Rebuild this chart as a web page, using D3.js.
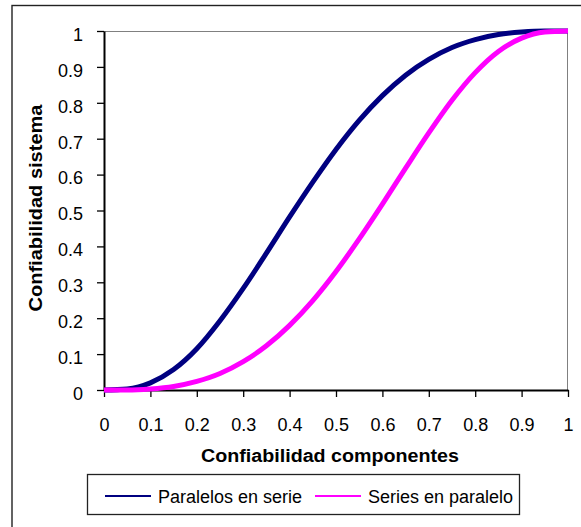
<!DOCTYPE html>
<html>
<head>
<meta charset="utf-8">
<script src="https://cdn.jsdelivr.net/npm/d3@7"></script>
<style>
  body { margin: 0; background: #fff; }
  svg { display: block; font-family: "Liberation Sans", Arial, sans-serif; }
</style>
</head>
<body>
<svg></svg>
<script>
// component reliability (x)
const componentes = [0, 0.05, 0.1, 0.15, 0.2, 0.25, 0.3, 0.35, 0.4, 0.45, 0.5,
  0.55, 0.6, 0.65, 0.7, 0.75, 0.8, 0.85, 0.9, 0.95, 1];

// system reliability
const paralelosEnSerie = [0, 0.003, 0.02, 0.057, 0.115, 0.193, 0.283, 0.381, 0.482, 0.579, 0.67,
  0.751, 0.82, 0.877, 0.921, 0.954, 0.976, 0.99, 0.997, 1, 1];
const seriesEnParalelo = [0, 0, 0.003, 0.01, 0.024, 0.046, 0.079, 0.123, 0.18, 0.249, 0.33,
  0.421, 0.518, 0.618, 0.716, 0.807, 0.884, 0.943, 0.98, 0.997, 1];

const xTicks = [0, 0.1, 0.2, 0.3, 0.4, 0.5, 0.6, 0.7, 0.8, 0.9, 1];
const yTicks = [0, 0.1, 0.2, 0.3, 0.4, 0.5, 0.6, 0.7, 0.8, 0.9, 1];

const seriesNames = ['Paralelos en serie', 'Series en paralelo'];
const seriesColors = ['#000080', '#ff00ff'];

const xAxisLabelText = 'Confiabilidad componentes';
const yAxisLabelText = 'Confiabilidad sistema';

const margin = { top: 31, left: 104 };
const width = 464;
const height = 359;

const svg = d3.select('svg')
  .attr('width', 581)
  .attr('height', 527);

// outer chart border
svg.append('rect')
  .attr('x', 12)
  .attr('y', 5.5)
  .attr('width', 620)
  .attr('height', 600)
  .attr('fill', 'none')
  .attr('stroke', '#222')
  .attr('stroke-width', 1.4);

const chart = svg.append('g')
  .attr('transform', `translate(${margin.left}, ${margin.top})`);

const xScale = d3.scaleLinear().domain([0, 1]).range([0, width]);
const yScale = d3.scaleLinear().domain([0, 1]).range([height, 0]);

// plot area top / right border
chart.append('path')
  .attr('d', `M0,0.5H${width - 0.5}V${height}`)
  .attr('fill', 'none')
  .attr('stroke', '#808080')
  .attr('stroke-width', 1);

// x axis
const xAxis = chart.append('g')
  .attr('transform', `translate(0, ${height})`)
  .call(d3.axisBottom(xScale).tickValues(xTicks).tickSize(7).tickSizeOuter(0)
    .tickFormat(d3.format('')));

xAxis.selectAll('text')
  .attr('y', 41)
  .attr('dy', 0)
  .style('font-size', '18px')
  .style('fill', '#000');

// y axis
const yAxis = chart.append('g')
  .call(d3.axisLeft(yScale).tickValues(yTicks).tickSize(7).tickSizeOuter(0)
    .tickFormat(d3.format('')));

yAxis.selectAll('text')
  .attr('x', -21)
  .attr('dy', '0.52em')
  .style('font-size', '18px')
  .style('fill', '#000');

svg.selectAll('.domain')
  .attr('stroke', '#000')
  .attr('stroke-width', 2);
svg.selectAll('.tick line')
  .attr('stroke', '#000')
  .attr('stroke-width', 1.3);

// lines
const line = d3.line()
  .x((d) => xScale(d[0]))
  .y((d) => yScale(d[1]))
  .curve(d3.curveMonotoneX);

[paralelosEnSerie, seriesEnParalelo].forEach((values, i) => {
  chart.append('path')
    .datum(componentes.map((c, j) => [c, values[j]]))
    .attr('fill', 'none')
    .attr('stroke', seriesColors[i])
    .attr('stroke-width', 5)
    .attr('stroke-linejoin', 'round')
    .attr('d', line);
});

// axis titles
svg.append('text')
  .attr('x', 330)
  .attr('y', 462)
  .attr('text-anchor', 'middle')
  .attr('textLength', 258)
  .attr('lengthAdjust', 'spacingAndGlyphs')
  .style('font-size', '18px')
  .style('font-weight', 'bold')
  .text(xAxisLabelText);

svg.append('text')
  .attr('transform', 'translate(42, 208) rotate(-90)')
  .attr('text-anchor', 'middle')
  .attr('textLength', 207)
  .attr('lengthAdjust', 'spacingAndGlyphs')
  .style('font-size', '18px')
  .style('font-weight', 'bold')
  .text(yAxisLabelText);

// legend
const legend = svg.append('g');

legend.append('rect')
  .attr('x', 87.5)
  .attr('y', 474.5)
  .attr('width', 432)
  .attr('height', 40)
  .attr('fill', '#fff')
  .attr('stroke', '#222')
  .attr('stroke-width', 1.3);

const legendX = [105, 315];
seriesNames.forEach((name, i) => {
  legend.append('line')
    .attr('x1', legendX[i])
    .attr('x2', legendX[i] + 46)
    .attr('y1', 496)
    .attr('y2', 496)
    .attr('stroke', seriesColors[i])
    .attr('stroke-width', 2);
  legend.append('text')
    .attr('x', legendX[i] + 53)
    .attr('y', 503)
    .style('font-size', '18px')
    .text(name);
});
</script>
</body>
</html>
